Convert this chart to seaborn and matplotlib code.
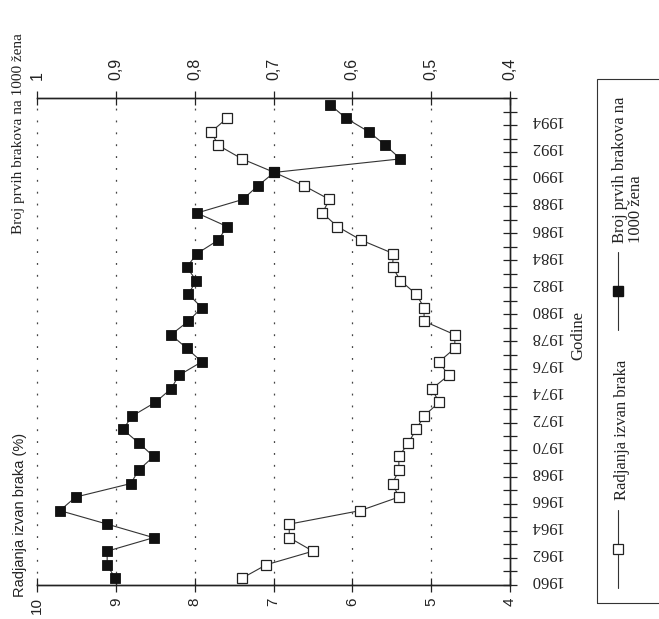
import matplotlib
matplotlib.use("Agg")
import matplotlib.pyplot as plt
import numpy as np
import pandas as pd
import seaborn as sns
from matplotlib.lines import Line2D
from matplotlib.patches import Rectangle

# ---------------- data ----------------
years_births = list(range(1960, 1995))
births_outside = [7.40, 7.09, 6.50, 6.80, 6.80, 5.90, 5.41, 5.49, 5.41, 5.41,
                  5.29, 5.19, 5.09, 4.90, 4.99, 4.78, 4.90, 4.70, 4.70, 5.09,
                  5.09, 5.19, 5.39, 5.49, 5.48, 5.89, 6.19, 6.38, 6.29, 6.61,
                  6.99, 7.40, 7.70, 7.79, 7.59]
years_marriages = list(range(1960, 1996))
first_marriages = [0.901, 0.911, 0.911, 0.852, 0.911, 0.971, 0.951, 0.881, 0.871, 0.852,
                   0.871, 0.891, 0.879, 0.850, 0.830, 0.820, 0.791, 0.810, 0.830, 0.808,
                   0.791, 0.808, 0.798, 0.810, 0.797, 0.770, 0.759, 0.797, 0.739, 0.720,
                   0.699, 0.539, 0.558, 0.579, 0.608, 0.628]

births_ticks = [10, 9, 8, 7, 6, 5, 4]
births_ticklabels = ["10", "9", "8", "7", "6", "5", "4"]
marr_ticks = [1.0, 0.9, 0.8, 0.7, 0.6, 0.5, 0.4]
marr_ticklabels = ["1", "0,9", "0,8", "0,7", "0,6", "0,5", "0,4"]
year_labels = [1960, 1962, 1964, 1966, 1968, 1970, 1972, 1974, 1976, 1978,
               1980, 1982, 1984, 1986, 1988, 1990, 1992, 1994]

label_births = "Radjanja izvan braka"
label_marr = "Broj prvih brakova na\n1000 žena"
axis_births = "Radjanja izvan braka (%)"
axis_marr = "Broj prvih brakova na 1000 žena"
axis_years = "Godine"

# ---------------- style ----------------
sns.set_style("white")
SERIF = ["Liberation Serif", "DejaVu Serif"]
SANS = ["Liberation Sans", "DejaVu Sans"]
plt.rcParams["font.family"] = SANS
INK = "#222222"

W, H = 659, 619
def fx(px):
    return px / W
def fy(py):
    return 1 - py / H

fig = plt.figure(figsize=(W / 100, H / 100), dpi=100)
fig.patch.set_facecolor("white")
L, R, T, B = 37, 510, 98, 585
ax = fig.add_axes([fx(L), fy(B), (R - L) / W, (B - T) / H])
ax2 = ax.twiny()

df_b = pd.DataFrame({"Godina": years_births, "Vrijednost": births_outside})
df_m = pd.DataFrame({"Godina": years_marriages, "Vrijednost": first_marriages})

sns.lineplot(data=df_b, x="Vrijednost", y="Godina", orient="y", sort=False,
             estimator=None, ax=ax, color="#333333", linewidth=0.8,
             marker="s", markersize=7.5, markerfacecolor="white",
             markeredgecolor=INK, markeredgewidth=0.9, clip_on=False)
sns.lineplot(data=df_m, x="Vrijednost", y="Godina", orient="y", sort=False,
             estimator=None, ax=ax2, color="#333333", linewidth=0.8,
             marker="s", markersize=7, markerfacecolor="#111111",
             markeredgecolor="#111111", markeredgewidth=0.6, clip_on=False)

ax.set_xlim(10, 4)
ax2.set_xlim(1.0, 0.4)
ax.set_ylim(1959.5, 1995.5)

for a in (ax, ax2):
    a.set_xlabel("")
    a.set_ylabel("")
    for s in a.spines.values():
        s.set_color(INK)
        s.set_linewidth(1.0)
    a.spines["left"].set_visible(False)

# bottom axis (births outside marriage)
ax.set_xticks(births_ticks)
ax.set_xticklabels(births_ticklabels, rotation=90, family=SANS, fontsize=11)
ax.tick_params(axis="x", direction="inout", length=10, width=0.9, color=INK,
               pad=4, labelcolor=INK)

# top axis (first marriages)
ax2.set_xticks(marr_ticks)
ax2.set_xticklabels(marr_ticklabels, rotation=90, family=SANS, fontsize=11.5)
ax2.tick_params(axis="x", direction="inout", length=10, width=0.9, color=INK,
                pad=8, labelcolor=INK)

# year axis on the right
ax.yaxis.tick_right()
ax.set_yticks(year_labels)
ax.set_yticklabels([str(y) for y in year_labels], rotation=180, family=SERIF,
                   fontsize=12)
ax.set_yticks([y - 0.5 for y in years_marriages] + [1995.5], minor=True)
ax.tick_params(axis="y", which="major", length=0, pad=14, labelcolor=INK)
ax.tick_params(axis="y", which="minor", direction="inout", length=10,
               width=0.9, color=INK, right=True, left=False)

# dotted vertical grid
ax.grid(False)
ax2.grid(False)
for v in births_ticks[:-1]:
    ax.axvline(v, color="#444444", linewidth=0.9, linestyle=(0, (1.5, 8)),
               zorder=0, clip_on=False)

# axis titles
fig.text(fx(19), fy(134), axis_marr, rotation=90, ha="center", va="center",
         family=SERIF, fontsize=11, color=INK)
fig.text(fx(20), fy(515), axis_births, rotation=90, ha="center", va="center",
         family=SANS, fontsize=10.5, color=INK)
fig.text(fx(578), fy(335), axis_years, rotation=90, ha="center", va="center",
         family=SERIF, fontsize=12, color=INK)

# legend box (drawn rotated like the rest)
fig.add_artist(Rectangle((fx(597), fy(603)), fx(720) - fx(597), fy(79) - fy(603),
                         transform=fig.transFigure, fill=False,
                         edgecolor="#333333", linewidth=0.8))
fig.add_artist(Line2D([fx(618), fx(618)], [fy(588), fy(510)],
                      transform=fig.transFigure, color="#333333", linewidth=0.8))
fig.add_artist(Line2D([fx(618)], [fy(549)], transform=fig.transFigure,
                      marker="s", markersize=7.5, markerfacecolor="white",
                      markeredgecolor=INK, markeredgewidth=0.9, linestyle="none"))
fig.text(fx(622), fy(500), label_births, rotation=90, ha="center", va="bottom",
         family=SERIF, fontsize=12, color=INK)

fig.add_artist(Line2D([fx(618), fx(618)], [fy(330), fy(252)],
                      transform=fig.transFigure, color="#333333", linewidth=0.8))
fig.add_artist(Line2D([fx(618)], [fy(291)], transform=fig.transFigure,
                      marker="s", markersize=7, markerfacecolor="#111111",
                      markeredgecolor="#111111", linestyle="none"))
fig.text(fx(628), fy(243), label_marr, rotation=90, ha="center", va="bottom",
         multialignment="left", linespacing=0.95, family=SERIF, fontsize=12,
         color=INK)

fig.savefig("out.png", dpi=100, facecolor="white")
